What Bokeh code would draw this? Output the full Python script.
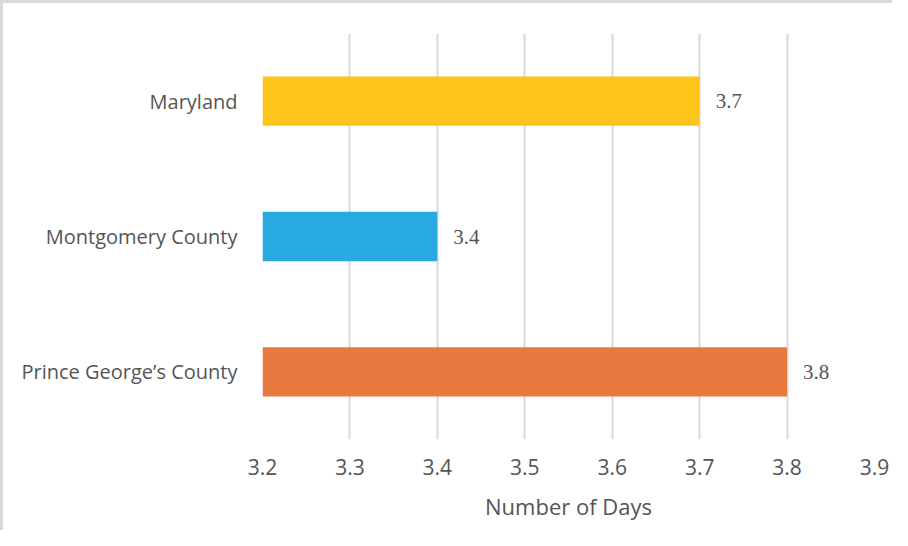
from bokeh.plotting import figure
from bokeh.models import ColumnDataSource, FactorRange, Range1d, LabelSet, FixedTicker
from bokeh.embed import file_html
from bokeh.resources import INLINE

categories = ["Prince George’s County", "Montgomery County", "Maryland"]
values = [3.8, 3.4, 3.7]
colors = ["#E87A40", "#29A9E1", "#FDC419"]
labels = ["3.8", "3.4", "3.7"]
x_ticks = [3.2, 3.3, 3.4, 3.5, 3.6, 3.7, 3.8, 3.9]
x_title = "Number of Days"

FONT = "Open Sans"
TXT = "#555555"
GRID = "#d9d9d9"

src = ColumnDataSource(dict(cat=categories, val=values, color=colors, label=labels))

p = figure(width=892, height=530, output_backend="svg", toolbar_location=None,
           y_range=FactorRange(factors=categories, range_padding=0),
           x_range=Range1d(3.2, 3.9),
           min_border_left=259, min_border_right=21, min_border_top=30, min_border_bottom=94)
p.styles = {"border-top": "3px solid #d9d9d9", "border-left": "3px solid #d9d9d9"}
p.outline_line_color = None

p.hbar(y="cat", left=3.2, right="val", height=0.365, color="color", line_color=None, source=src)

lbl = LabelSet(x="val", y="cat", text="label", source=src, x_offset=16,
               text_align="left", text_baseline="middle", text_color=TXT,
               text_font=FONT, text_font_size="21px")
p.add_layout(lbl)

p.xaxis.ticker = FixedTicker(ticks=x_ticks)
p.xaxis.axis_label = x_title
p.xaxis.axis_label_text_font = FONT
p.xaxis.axis_label_text_font_style = "normal"
p.xaxis.axis_label_text_font_size = "22px"
p.xaxis.axis_label_text_color = TXT
p.xaxis.axis_label_standoff = 13
p.xaxis.major_label_text_font = FONT
p.xaxis.major_label_text_font_size = "21px"
p.xaxis.major_label_text_color = TXT
p.xaxis.major_label_standoff = 13
p.xaxis.axis_line_color = None
p.xaxis.major_tick_line_color = None
p.xaxis.minor_tick_line_color = None

p.yaxis.major_label_text_font = FONT
p.yaxis.major_label_text_font_size = "20px"
p.yaxis.major_label_text_color = TXT
p.yaxis.major_label_standoff = 19
p.yaxis.axis_line_color = None
p.yaxis.major_tick_line_color = None
p.yaxis.minor_tick_line_color = None

p.xgrid.grid_line_color = GRID
p.xgrid.grid_line_width = 2
p.ygrid.grid_line_color = None

open("out.html", "w").write(file_html(p, INLINE))
